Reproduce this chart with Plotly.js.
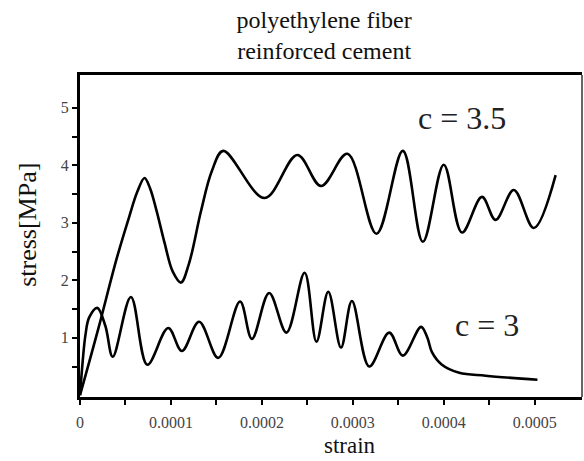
<!DOCTYPE html>
<html>
<head>
<meta charset="utf-8">
<script src="https://cdn.plot.ly/plotly-3.0.1.min.js"></script>
<style>html,body{margin:0;padding:0;background:#fff;}#chart{width:584px;height:461px;}</style>
</head>
<body>
<div id="chart"></div>
<script>
// c = 3.5 curve
const strainC35 = [0, 0.2e-4, 0.4e-4, 0.54e-4, 0.63e-4, 0.71e-4, 0.77e-4, 0.84e-4, 0.93e-4, 1.02e-4, 1.11e-4, 1.2e-4, 1.33e-4, 1.45e-4, 1.575e-4, 2.03e-4, 2.39e-4, 2.65e-4, 2.94e-4, 3.26e-4, 3.55e-4, 3.77e-4, 4.0e-4, 4.2e-4, 4.42e-4, 4.57e-4, 4.77e-4, 4.99e-4, 5.23e-4];
const stressC35 = [0, 1.15, 2.36, 3.1, 3.54, 3.78, 3.6, 3.22, 2.65, 2.15, 1.96, 2.3, 3.2, 3.9, 4.25, 3.43, 4.18, 3.64, 4.2, 2.81, 4.25, 2.67, 4.01, 2.83, 3.45, 3.05, 3.57, 2.91, 3.83];
// c = 3 curve
const strainC3 = [0, 0.03e-4, 0.06e-4, 0.1e-4, 0.19e-4, 0.28e-4, 0.36e-4, 0.56e-4, 0.74e-4, 0.97e-4, 1.12e-4, 1.31e-4, 1.52e-4, 1.76e-4, 1.89e-4, 2.08e-4, 2.27e-4, 2.47e-4, 2.6e-4, 2.73e-4, 2.87e-4, 2.99e-4, 3.18e-4, 3.4e-4, 3.55e-4, 3.75e-4, 3.82e-4, 3.87e-4, 3.98e-4, 4.17e-4, 4.46e-4, 5.03e-4];
const stressC3 = [0, 0.6, 1.05, 1.35, 1.52, 1.2, 0.67, 1.71, 0.53, 1.17, 0.77, 1.28, 0.65, 1.63, 0.98, 1.78, 1.09, 2.13, 0.93, 1.80, 0.83, 1.64, 0.5, 1.09, 0.69, 1.19, 1.0, 0.75, 0.53, 0.39, 0.34, 0.27];

const xTickVals = [0, 0.00005, 0.0001, 0.00015, 0.0002, 0.00025, 0.0003, 0.00035, 0.0004, 0.00045, 0.0005];
const xTickText = ['0', '', '0.0001', '', '0.0002', '', '0.0003', '', '0.0004', '', '0.0005'];
const yTickVals = [0.5, 1, 1.5, 2, 2.5, 3, 3.5, 4, 4.5, 5];
const yTickText = ['', '1', '', '2', '', '3', '', '4', '', '5'];

const serif = 'Liberation Serif, Times New Roman, serif';
const lineStyle = {color: '#000', width: 2.6, shape: 'spline', smoothing: 1};

const traces = [
  {x: strainC35, y: stressC35, mode: 'lines', line: lineStyle, name: 'c = 3.5', hoverinfo: 'x+y'},
  {x: strainC3, y: stressC3, mode: 'lines', line: lineStyle, name: 'c = 3', hoverinfo: 'x+y'}
];

const layout = {
  width: 584, height: 461,
  margin: {l: 80, r: 2, t: 75, b: 64},
  paper_bgcolor: '#fff', plot_bgcolor: '#fff',
  showlegend: false,
  title: {
    text: 'polyethylene fiber<br>reinforced cement',
    font: {family: serif, size: 24, color: '#111'},
    x: 0.555, xanchor: 'center', xref: 'container',
    y: 0.94, yanchor: 'middle', yref: 'container'
  },
  xaxis: {
    range: [0, 0.000552],
    tickvals: xTickVals, ticktext: xTickText,
    ticks: 'outside', ticklen: 5, tickwidth: 2, tickcolor: '#000',
    ticklabelstandoff: 4,
    showline: true, linecolor: '#000', linewidth: 3, mirror: true,
    showgrid: false, zeroline: false,
    tickfont: {family: serif, size: 16, color: '#444'}
  },
  yaxis: {
    range: [-0.03, 5.57],
    tickvals: yTickVals, ticktext: yTickText,
    ticks: 'outside', ticklen: 5, tickwidth: 2, tickcolor: '#000',
    showline: true, linecolor: '#000', linewidth: 3, mirror: false,
    showgrid: false, zeroline: false,
    tickfont: {family: serif, size: 16, color: '#444'}
  },
  shapes: [
    {type: 'line', xref: 'paper', yref: 'paper', x0: 1, x1: 1, y0: 0, y1: 1, line: {color: '#000', width: 1.2}}
  ],
  annotations: [
    {x: 0.538, y: -0.152, xref: 'paper', yref: 'paper', xanchor: 'center', yanchor: 'middle',
     text: 'strain', showarrow: false, font: {family: serif, size: 23, color: '#111'}},
    {x: -0.106, y: 0.534, xref: 'paper', yref: 'paper', xanchor: 'center', yanchor: 'middle', textangle: -90,
     text: 'stress[MPa]', showarrow: false, font: {family: serif, size: 26, color: '#111'}},
    {x: 0.00042, y: 4.83, xref: 'x', yref: 'y', text: 'c = 3.5', showarrow: false, font: {family: serif, size: 32, color: '#222'}},
    {x: 0.000448, y: 1.23, xref: 'x', yref: 'y', text: 'c = 3', showarrow: false, font: {family: serif, size: 32, color: '#222'}}
  ]
};

Plotly.newPlot('chart', traces, layout, {staticPlot: true, displayModeBar: false});
</script>
</body>
</html>
